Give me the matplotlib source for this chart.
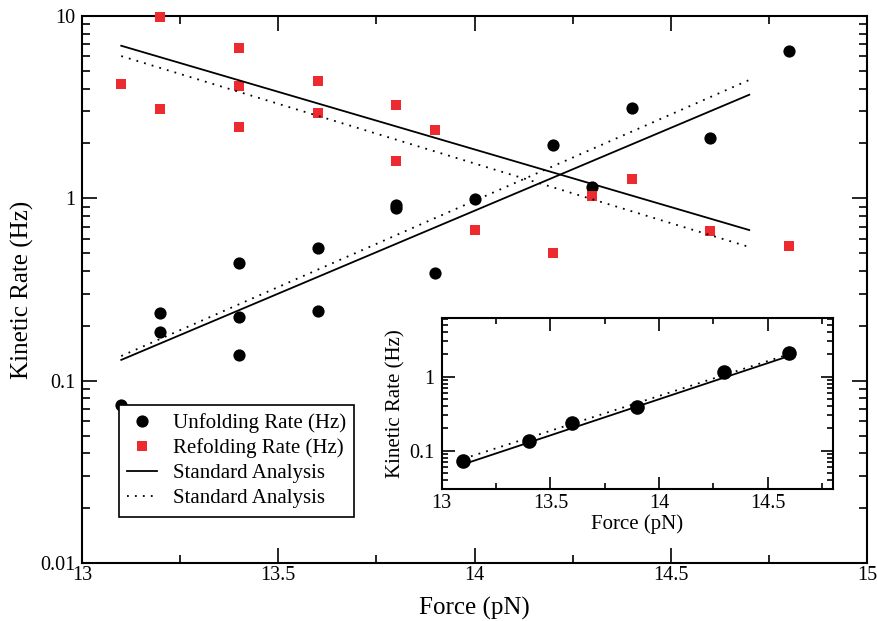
import matplotlib
matplotlib.use("Agg")
import matplotlib.pyplot as plt
from matplotlib.ticker import LogLocator, MultipleLocator, NullFormatter, FixedFormatter, FixedLocator

plt.rcParams["font.family"] = ["Liberation Serif", "DejaVu Serif"]

# --- data ------------------------------------------------------------
unfold_force = [13.1, 13.2, 13.2, 13.4, 13.4, 13.4, 13.6, 13.6, 13.8, 13.8,
                13.9, 14.0, 14.2, 14.3, 14.4, 14.6, 14.8]
unfold_rate = [0.074, 0.236, 0.186, 0.224, 0.139, 0.44, 0.533, 0.242, 0.88, 0.92,
               0.388, 0.99, 1.95, 1.15, 3.14, 2.15, 6.45]

refold_force = [13.1, 13.2, 13.2, 13.4, 13.4, 13.4, 13.6, 13.6, 13.8, 13.8,
                13.9, 14.0, 14.2, 14.3, 14.4, 14.6, 14.8]
refold_rate = [4.24, 9.9, 3.08, 6.65, 4.13, 2.47, 4.4, 2.95, 3.24, 1.6,
               2.37, 0.673, 0.499, 1.03, 1.28, 0.662, 0.55]

fit_force = [13.1, 14.7]
unfold_fit_solid = [0.13, 3.7]
unfold_fit_dotted = [0.1365, 4.46]
refold_fit_solid = [6.87, 0.67]
refold_fit_dotted = [6.03, 0.541]

inset_force = [13.1, 13.4, 13.6, 13.9, 14.3, 14.6]
inset_rate = [0.073, 0.137, 0.24, 0.389, 1.14, 2.12]
inset_fit_force = [13.1, 14.6]
inset_fit_solid = [0.0657, 1.91]
inset_fit_dotted = [0.078, 2.02]

RED = "#ec2a2f"
DOT = (0, (1, 3.4))

fig = plt.figure(figsize=(8.77, 6.21), dpi=100)
ax = fig.add_axes([0.0935, 0.0934, 0.8951, 0.8808])

ax.plot(unfold_force, unfold_rate, "o", color="black", ms=8.8, mew=0,
        label="Unfolding Rate (Hz)", zorder=3)
ax.plot(refold_force, refold_rate, "s", color=RED, ms=7.7, mew=0,
        label="Refolding Rate (Hz)", zorder=3, clip_on=False)
ax.plot(fit_force, unfold_fit_solid, "-", color="black", lw=1.3,
        label="Standard Analysis", zorder=4)
ax.plot(fit_force, unfold_fit_dotted, color="black", lw=1.3, ls=DOT,
        label="Standard Analysis", zorder=4)
ax.plot(fit_force, refold_fit_solid, "-", color="black", lw=1.3, zorder=4)
ax.plot(fit_force, refold_fit_dotted, color="black", lw=1.3, ls=DOT, zorder=4)

ax.set_yscale("log")
ax.set_xlim(13, 15)
ax.set_ylim(0.01, 10)
ax.xaxis.set_minor_locator(MultipleLocator(0.25))
ax.yaxis.set_major_locator(FixedLocator([0.01, 0.1, 1, 10]))
ax.yaxis.set_major_formatter(FixedFormatter(["0.01", "0.1", "1", "10"]))
ax.yaxis.set_minor_locator(LogLocator(base=10, subs=range(2, 10)))
ax.yaxis.set_minor_formatter(NullFormatter())
ax.set_xticks([13, 13.5, 14, 14.5, 15])
ax.set_xticklabels(["13", "13.5", "14", "14.5", "15"])

for s in ax.spines.values():
    s.set_linewidth(1.5)
ax.tick_params(which="both", direction="in", top=True, right=True,
               labelsize=14.5, width=1.2)
ax.tick_params(which="major", length=10.8)
ax.tick_params(which="minor", length=5.8)
ax.tick_params(axis="x", pad=2.5)
ax.tick_params(axis="y", pad=5)

ax.set_xlabel("Force (pN)", fontsize=18, labelpad=8)
ax.set_ylabel("Kinetic Rate (Hz)", fontsize=18, labelpad=4)

leg = ax.legend(loc="upper left", bbox_to_anchor=(0.047, 0.289),
                borderaxespad=0, fontsize=15, numpoints=1,
                fancybox=False, framealpha=1, edgecolor="black",
                handlelength=1.44, handletextpad=0.75, labelspacing=0.26,
                borderpad=0.4)
leg.get_frame().set_linewidth(1.2)

# --- inset ------------------------------------------------------------
ins = fig.add_axes([0.5036, 0.2118, 0.4462, 0.2761])
ins.plot(inset_force, inset_rate, "o", color="black", ms=10.5, mew=0, zorder=3)
ins.plot(inset_fit_force, inset_fit_solid, "-", color="black", lw=1.3, zorder=4)
ins.plot(inset_fit_force, inset_fit_dotted, color="black", lw=1.3, ls=DOT, zorder=4)
ins.set_yscale("log")
ins.set_xlim(13, 14.8)
ins.set_ylim(0.03, 6.2)
ins.set_xticks([13, 13.5, 14, 14.5])
ins.set_xticklabels(["13", "13.5", "14", "14.5"])
ins.xaxis.set_minor_locator(MultipleLocator(0.25))
ins.yaxis.set_major_locator(FixedLocator([0.1, 1]))
ins.yaxis.set_major_formatter(FixedFormatter(["0.1", "1"]))
ins.yaxis.set_minor_locator(LogLocator(base=10, subs=range(2, 10)))
ins.yaxis.set_minor_formatter(NullFormatter())
for s in ins.spines.values():
    s.set_linewidth(1.5)
ins.tick_params(which="both", direction="in", top=True, right=True,
                labelsize=14.5, width=1.2)
ins.tick_params(which="major", length=9)
ins.tick_params(which="minor", length=4.5)
ins.tick_params(axis="x", pad=3)
ins.tick_params(axis="y", pad=5)
ins.set_xlabel("Force (pN)", fontsize=15, labelpad=1)
ins.set_ylabel("Kinetic Rate (Hz)", fontsize=15, labelpad=3)

fig.savefig("out.png", dpi=100, facecolor="white")
